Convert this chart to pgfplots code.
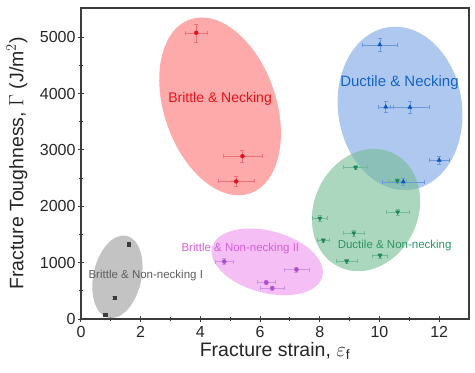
\documentclass[border=0pt]{standalone}
\usepackage{pgfplots}
\pgfplotsset{compat=1.18}
\usepackage{fontspec}
\setmainfont{Liberation Sans}
\definecolor{redF}{RGB}{255,113,113}
\definecolor{blueF}{RGB}{122,163,230}
\definecolor{greenF}{RGB}{113,188,147}
\definecolor{magF}{RGB}{238,147,238}
\definecolor{grayF}{RGB}{155,155,155}
\definecolor{redM}{RGB}{228,20,30}
\definecolor{blueM}{RGB}{10,85,195}
\definecolor{greenM}{RGB}{25,135,85}
\definecolor{magM}{RGB}{175,75,210}
\definecolor{grayM}{RGB}{60,60,60}
\definecolor{redT}{RGB}{225,20,30}
\definecolor{blueT}{RGB}{20,100,200}
\definecolor{greenT}{RGB}{45,150,100}
\definecolor{magT}{RGB}{215,95,215}
\definecolor{grayT}{RGB}{95,95,95}
\definecolor{axc}{RGB}{60,60,60}
\pgfplotsset{
  eb/.style={
    error bars/x dir=both, error bars/x explicit,
    error bars/y dir=both, error bars/y explicit,
    error bars/error bar style={#1, line width=0.5pt},
    error bars/error mark options={rotate=90, mark size=2pt, line width=0.5pt, #1},
  }
}
\begin{document}
\begin{tikzpicture}
\begin{axis}[
  at={(0,0)}, anchor=south west,
  scale only axis, width=388pt, height=311pt,
  xmin=0, xmax=13, ymin=0, ymax=5520,
  xtick={0,2,...,12}, ytick={0,1000,...,5000},
  minor x tick num=1, minor y tick num=1,
  tick align=center, xtick pos=left, ytick pos=left,
  major tick length=6pt, minor tick length=4pt,
  axis line style={axc, line width=1.1pt},
  every tick/.style={axc, line width=1pt},
  /pgf/number format/assume math mode=true,
  /pgf/number format/set thousands separator={},
  tick label style={font=\fontsize{16}{18}\selectfont, text=black!85},
  xticklabel style={yshift=-1pt},
  yticklabel style={xshift=1pt},
  xlabel={Fracture strain, $\varepsilon_\mathrm{f}$},
  ylabel={Fracture Toughness, $\Gamma$ (J/m$^2$)},
  label style={font=\fontsize{19.5}{21}\selectfont, text=black!85},
  every axis x label/.append style={at={([yshift=-32pt]axis description cs:0.5,0)}, anchor=center},
  every axis y label/.append style={at={([xshift=-64pt]axis description cs:0,0.5)}, anchor=center},
  clip=false,
]
% ellipses
\fill[redF, opacity=0.6] (axis cs:4.66,3774) circle [x radius=56pt, y radius=92pt, rotate=19];
\fill[blueF, opacity=0.6] (axis cs:10.69,3738) circle [x radius=62pt, y radius=82pt, rotate=8];
\fill[greenF, opacity=0.6] (axis cs:9.55,1934) circle [x radius=52pt, y radius=63pt, rotate=-25];
\fill[magF, opacity=0.6] (axis cs:6.24,1014) circle [x radius=57pt, y radius=31pt, rotate=-15];
\fill[grayF, opacity=0.6] (axis cs:1.22,749) circle [x radius=24pt, y radius=42pt, rotate=-12.5];
% data
\addplot[only marks, mark=*, mark size=2pt, color=redM, eb=redM!60] coordinates {
 (3.86,5080) +- (0.38,160)
 (5.41,2890) +- (0.65,110)
 (5.20,2442) +- (0.61,90)
};
\addplot[only marks, mark=triangle*, mark size=2.4pt, color=blueM, eb=blueM!60] coordinates {
 (10.01,4867) +- (0.60,120)
 (10.21,3763) +- (0.25,100)
 (11.02,3757) +- (0.65,100)
 (12.00,2820) +- (0.33,70)
 (10.80,2435) +- (0.70,60)
};
\addplot[only marks, mark=triangle*, mark options={rotate=180}, mark size=2.4pt, color=greenM, eb=greenM!60] coordinates {
 (9.20,2690) +- (0.40,40)
 (10.60,2453) +- (0.30,40)
 (10.61,1899) +- (0.38,50)
 (8.00,1788) +- (0.25,50)
 (9.14,1527) +- (0.35,50)
 (8.12,1398) +- (0.20,40)
 (10.02,1126) +- (0.25,40)
 (8.90,1027) +- (0.35,40)
};
\addplot[only marks, mark=*, mark size=2pt, color=magM, eb=magM!60] coordinates {
 (4.80,1020) +- (0.30,50)
 (7.22,878) +- (0.42,40)
 (6.21,648) +- (0.30,40)
 (6.41,548) +- (0.40,40)
};
\addplot[only marks, mark=square*, mark size=1.6pt, color=grayM, eb=grayM!60] coordinates {
 (1.61,1327) +- (0.05,40)
 (1.12,372) +- (0.05,30)
 (0.81,71) +- (0.05,30)
};
% labels
\node[text=redT, font=\fontsize{14}{16}\selectfont] at (axis cs:4.66,3899) {Brittle \& Necking};
\node[text=blueT, font=\fontsize{15}{17}\selectfont] at (axis cs:10.67,4200) {Ductile \& Necking};
\node[text=greenT, font=\fontsize{11.5}{13}\selectfont] at (axis cs:10.51,1297) {Ductile \& Non-necking};
\node[text=magT, font=\fontsize{11.5}{13}\selectfont] at (axis cs:5.34,1257) {Brittle \& Non-necking II};
\node[text=grayT, font=\fontsize{11.5}{13}\selectfont] at (axis cs:2.17,772) {Brittle \& Non-necking I};
\end{axis}
\pgfresetboundingbox
\useasboundingbox (-81pt,-54pt) rectangle (394pt,319pt);
\end{tikzpicture}
\end{document}
